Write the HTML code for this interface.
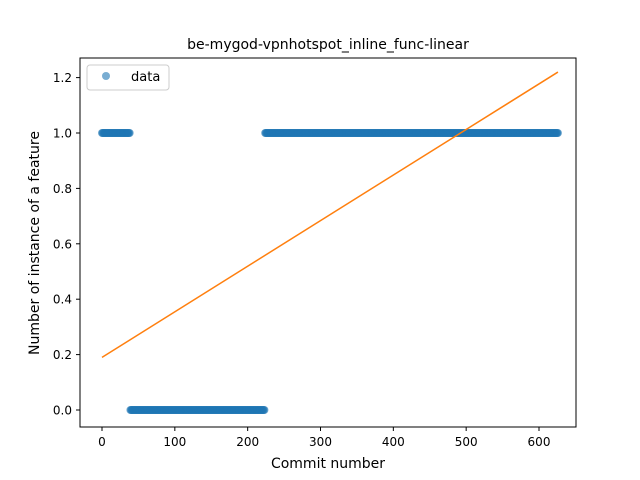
<!DOCTYPE html>
<html><head><meta charset="utf-8"><style>
body{margin:0;background:#fff;}
svg{display:block;font-family:"DejaVu Sans","Liberation Sans",sans-serif;}
</style></head><body>
<svg id="chart" width="640" height="480">
<rect width="640" height="480" fill="#fff"/>
<text x="328" y="49" font-size="14" text-anchor="middle">be-mygod-vpnhotspot_inline_func-linear</text>
<text x="328" y="468" font-size="14" text-anchor="middle">Commit number</text>
<text x="0" y="0" font-size="14" text-anchor="middle" transform="translate(39,243) rotate(-90)">Number of instance of a feature</text>
<g id="ticks"></g>
<g id="points"></g>
<g id="fit"></g>
<rect x="80" y="58" width="496" height="369" fill="none" stroke="#000" stroke-width="1"/>
<g>
<rect x="87" y="65" width="82" height="25" rx="3" fill="#fff" fill-opacity="0.8" stroke="#ccc"/>
<circle cx="106" cy="76" r="4" fill="#1f77b4" fill-opacity="0.6"/>
<text x="131" y="81" font-size="13">data</text>
</g>
</svg>
<script>
const xTicks=[0,100,200,300,400,500,600];
const yTicks=[0.0,0.2,0.4,0.6,0.8,1.0,1.2];
const runStarts=[0,39,224];
const runEnds=[38,223,626];
const runValues=[1,0,1];
const fitX=[0,626];
const fitY=[0.19,1.22];
const NS="http://www.w3.org/2000/svg";
function sx(v){return 102+v*437/600;}
function sy(v){return 410-v*277;}
function mk(t,a,p){const e=document.createElementNS(NS,t);for(const k in a)e.setAttribute(k,a[k]);p.appendChild(e);return e;}
const tg=document.getElementById('ticks');
xTicks.forEach(v=>{
 const l=mk('line',{x1:sx(v),x2:sx(v),y1:427,y2:431,stroke:'#000'},tg);
 
 
 const t=mk('text',{x:sx(v),y:446,'font-size':12,'text-anchor':'middle'},tg);t.textContent=v;
 
 
});
yTicks.forEach(v=>{
 const l=mk('line',{x1:76,x2:80,y1:sy(v),y2:sy(v),stroke:'#000'},tg);
 
 
 const t=mk('text',{x:72,y:sy(v)+4.5,'font-size':12,'text-anchor':'end'},tg);t.textContent=v.toFixed(1);
 
 
});
const pg=document.getElementById('points');
runStarts.forEach((s,i)=>{
 for(let x=s;x<=runEnds[i];x++){
  const c=mk('circle',{cx:sx(x),cy:sy(runValues[i]),r:4,fill:'#1f77b4','fill-opacity':0.6},pg);
  
  
 }
});
const fg=document.getElementById('fit');
const fl=mk('polyline',{points:fitX.map((x,i)=>sx(x)+','+sy(fitY[i])).join(' '),fill:'none',stroke:'#ff7f0e','stroke-width':1.5},fg);


</script>
</body></html>
